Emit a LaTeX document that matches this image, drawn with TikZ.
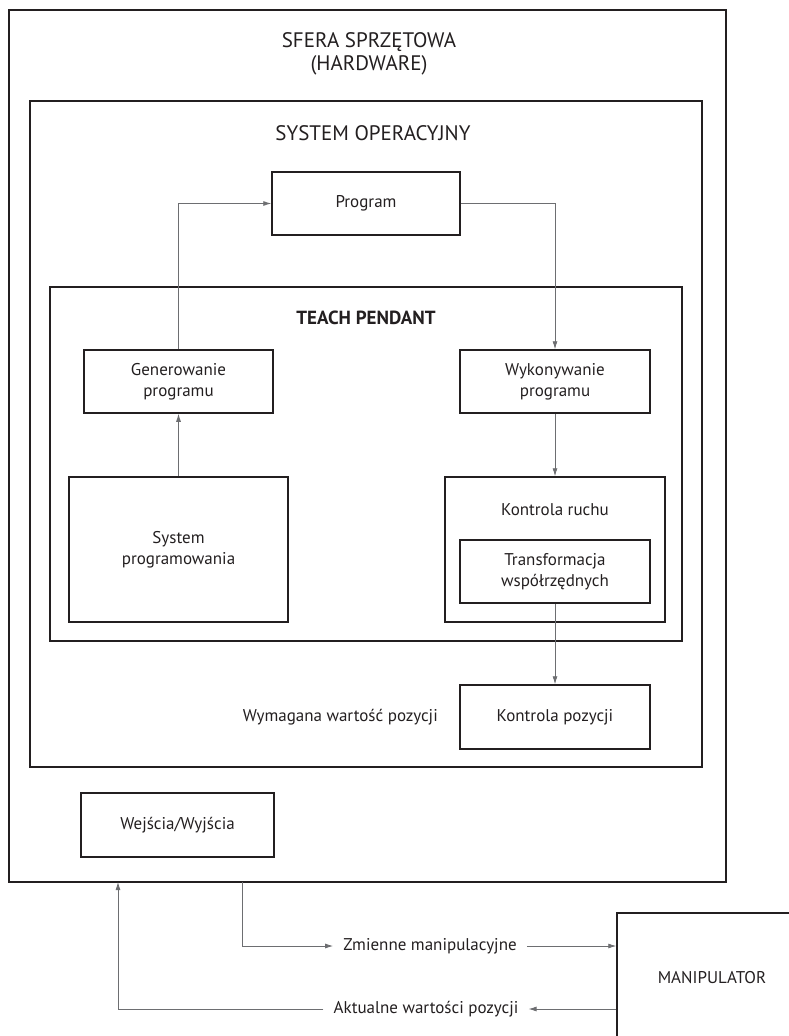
\documentclass[tikz,border=0pt]{standalone}
\usepackage{fontspec}
\setmainfont{PT Sans}
\usepackage{xcolor}
\usepackage{tikz}
\definecolor{ink}{HTML}{231F20}
\definecolor{wire}{HTML}{6D6E71}
\usetikzlibrary{arrows.meta}

\begin{document}
\begin{tikzpicture}[x=1pt,y=-1pt,
  box/.style 2 args={draw=ink,line width=1.5pt,minimum width=#1pt,minimum height=#2pt,
              inner sep=0pt,align=center,text=ink,font=\fontsize{17}{21}\selectfont},
  lbl/.style={inner xsep=10pt,inner ysep=0pt,text=ink,font=\fontsize{17}{21}\selectfont},
  ttl/.style={align=center,text=ink,font=\fontsize{21}{23}\selectfont},
  arr/.style={-{Latex[length=8pt,width=5pt]},color=wire,line width=0.8pt}]
  \useasboundingbox (0,0) rectangle (789,1036);
  \node[box={717}{872}](hw) at (367.5,446){};
  \node[ttl](hwt) at (369,53.5){SFERA SPRZĘTOWA\\(HARDWARE)};
  \node[box={672}{666}](os) at (366,434){};
  \node[ttl](ost) at (373,133){SYSTEM OPERACYJNY};
  \node[box={632}{354}](tp) at (366,464){};
  \node[ttl,font=\fontsize{19}{23}\selectfont\bfseries](tpt) at (366,318){TEACH PENDANT};
  \node[box={188}{63}](prog) at (366,203.5){Program};
  \node[box={189}{63}](gen) at (178.5,381.5){Generowanie\\programu};
  \node[box={190}{63}](wyk) at (555,381.5){Wykonywanie\\programu};
  \node[box={219}{145}](sys) at (178.5,549.5){System\\programowania};
  \node[box={220}{145}](ruch) at (555,549.5){};
  \node[lbl](rucht) at (555,510){Kontrola ruchu};
  \node[box={190}{63}](trans) at (555,571.5){Transformacja\\współrzędnych};
  \node[box={190}{64}](poz) at (555,717){Kontrola pozycji};
  \node[lbl,anchor=east](wym) at (448,717){Wymagana wartość pozycji};
  \node[box={193}{64}](io) at (177.5,825){Wejścia/Wyjścia};
  \node[box={190}{130}](man) at (712,978){MANIPULATOR};
  \node[lbl](zm) at (430,946){Zmienne manipulacyjne};
  \node[lbl](akt) at (426,1009){Aktualne wartości pozycji};
  \coordinate (out) at (242,882);\coordinate (in) at (118,882);
  \draw[arr](gen.north)|-(prog.west);\draw[arr](prog.east)-|(wyk.north);
  \draw[arr](wyk)--(ruch);\draw[arr](sys)--(gen);\draw[arr](trans)--(poz);
  \draw[arr](out)|-(zm.west);\draw[arr](zm.east)--(zm.east-|man.west);
  \draw[arr](akt.east-|man.west)--(akt.east);\draw[arr](akt.west)-|(in);
\end{tikzpicture}
\end{document}
